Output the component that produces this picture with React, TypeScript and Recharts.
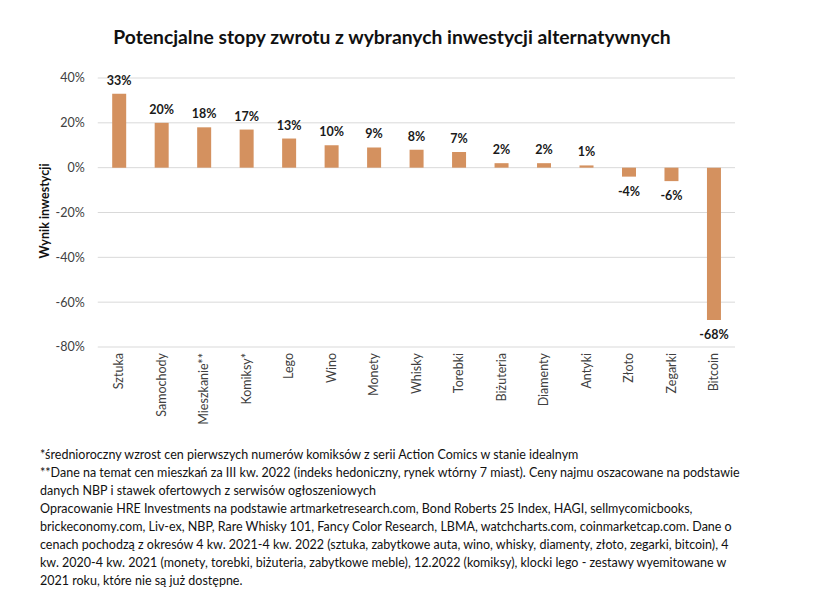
import React from "react";
import { BarChart, Bar, XAxis, YAxis, CartesianGrid, LabelList } from "recharts";

const categories = ["Sztuka", "Samochody", "Mieszkanie**", "Komiksy*", "Lego", "Wino", "Monety", "Whisky", "Torebki", "Biżuteria", "Diamenty", "Antyki", "Złoto", "Zegarki", "Bitcoin"];
const returns = [0.33, 0.2, 0.18, 0.17, 0.13, 0.1, 0.09, 0.08, 0.07, 0.02, 0.02, 0.01, -0.04, -0.06, -0.68];
const yTicks = [-0.8, -0.6, -0.4, -0.2, 0, 0.2, 0.4];
const title = "Potencjalne stopy zwrotu z wybranych inwestycji alternatywnych";
const yLabel = "Wynik inwestycji";
const notes = [
  "*średnioroczny wzrost cen pierwszych numerów komiksów z serii Action Comics w stanie idealnym",
  "**Dane na temat cen mieszkań za III kw. 2022 (indeks hedoniczny, rynek wtórny 7 miast). Ceny najmu oszacowane na podstawie",
  "danych NBP i stawek ofertowych z serwisów ogłoszeniowych",
  "Opracowanie HRE Investments na podstawie artmarketresearch.com, Bond Roberts 25 Index, HAGI, sellmycomicbooks,",
  "brickeconomy.com, Liv-ex, NBP, Rare Whisky 101, Fancy Color Research, LBMA, watchcharts.com, coinmarketcap.com. Dane o",
  "cenach pochodzą z okresów 4 kw. 2021-4 kw. 2022 (sztuka, zabytkowe auta, wino, whisky, diamenty, złoto, zegarki, bitcoin),  4",
  "kw. 2020-4 kw. 2021 (monety, torebki, biżuteria, zabytkowe meble), 12.2022 (komiksy), klocki lego - zestawy wyemitowane w",
  "2021 roku, które nie są już dostępne.",
];

const data = categories.map((name, i) => ({ name, value: returns[i] }));

const FONT = "Lato, 'Open Sans', sans-serif";
const pct = (v: number) => `${Math.round(v * 100)}%`;

const XTick = (props: any) => {
  const { x, y, payload } = props;
  return (
    <g transform={`translate(${x},${y})`}>
      <text
        transform="rotate(-90)"
        x={-(353 - y)}
        y={4.5}
        textAnchor="end"
        fontSize={12.5}
        fontFamily={FONT}
        fill="#404040"
      >
        {payload.value}
      </text>
    </g>
  );
};

const ValueLabel = (props: any) => {
  const { x, y, width, height, value } = props;
  const top = Math.min(y, y + height);
  const bottom = Math.max(y, y + height);
  const ty = value >= 0 ? top - 9 : bottom + 19;
  return (
    <text
      x={x + width / 2}
      y={ty}
      textAnchor="middle"
      fontSize={12.5}
      fontWeight="bold"
      fontFamily={FONT}
      fill="#1a1a1a"
    >
      {pct(value)}
    </text>
  );
};

export default function App() {
  return (
    <div style={{ position: "absolute", left: 0, top: 0, width: 813, height: 609, background: "#fff", fontFamily: FONT }}>
      <div
        style={{
          position: "absolute",
          top: 24,
          left: 0,
          width: 784,
          textAlign: "center",
          fontSize: 19.3,
          fontWeight: "bold",
          color: "#111",
          lineHeight: "26px",
        }}
      >
        {title}
      </div>
      <div style={{ position: "absolute", left: 0, top: 0 }}>
        <BarChart
          width={813}
          height={609}
          data={data}
          margin={{ top: 78, right: 78, bottom: 182, left: 37.75 }}
          barCategoryGap="34%"
        >
          <CartesianGrid vertical={false} stroke="#d9d9d9" />
          <XAxis
            dataKey="name"
            axisLine={false}
            tickLine={false}
            height={80}
            interval={0}
            tick={<XTick />}
          />
          <YAxis
            width={60}
            domain={[-0.8, 0.4]}
            ticks={yTicks}
            tickFormatter={pct}
            axisLine={false}
            tickLine={false}
            tick={{ fontSize: 12.5, fill: "#404040", fontFamily: FONT }}
            tickMargin={7}
          />
          <Bar dataKey="value" fill="#D4915F" isAnimationActive={false}>
            <LabelList dataKey="value" content={<ValueLabel />} />
          </Bar>
        </BarChart>
      </div>
      <div
        style={{
          position: "absolute",
          left: 44,
          top: 211,
          transform: "translate(-50%, -50%) rotate(-90deg)",
          fontSize: 12.5,
          fontWeight: "bold",
          color: "#111",
          whiteSpace: "nowrap",
        }}
      >
        {yLabel}
      </div>
      <div
        style={{
          position: "absolute",
          left: 40,
          top: 446,
          fontSize: 12.5,
          lineHeight: "18px",
          color: "#111",
          whiteSpace: "nowrap",
        }}
      >
        {notes.map((n, i) => (
          <div key={i}>{n}</div>
        ))}
      </div>
    </div>
  );
}
